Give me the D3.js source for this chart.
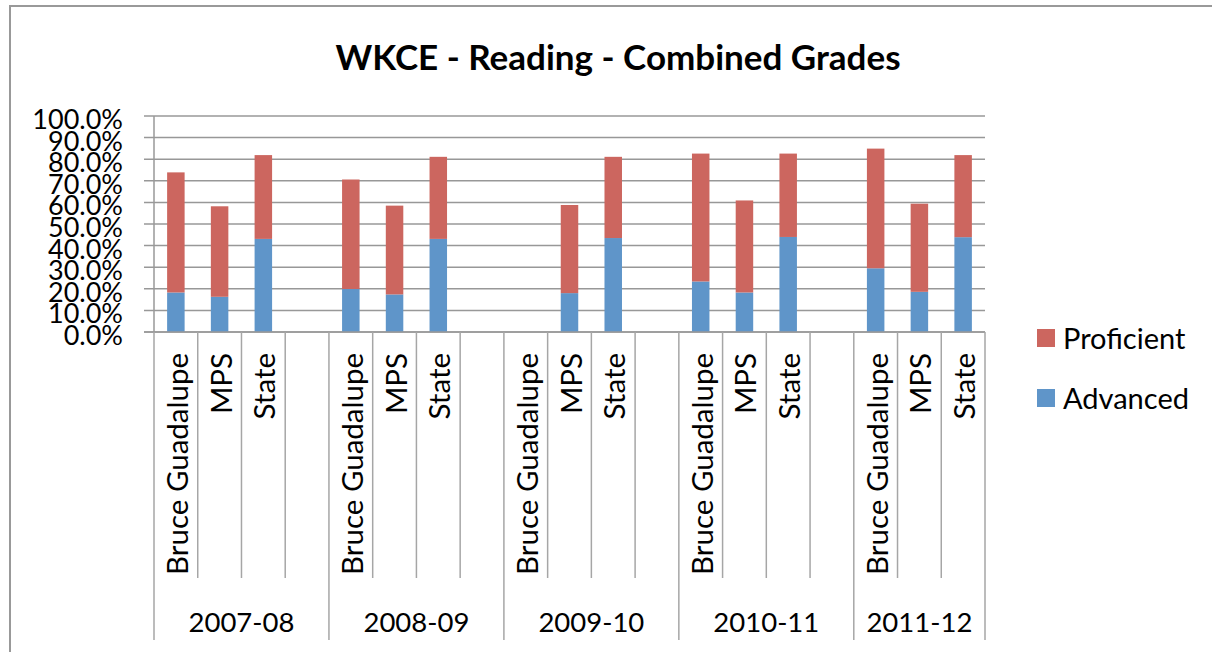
<!DOCTYPE html>
<html>
<head>
<meta charset="utf-8">
<script src="https://cdn.jsdelivr.net/npm/d3@7"></script>
<style>
  body { margin: 0; background: #fff; }
  text { font-family: Lato, "Open Sans", sans-serif; fill: #000; }
</style>
</head>
<body>
<div id="chart"></div>
<script>
// values (fractions of 1)
var years = ["2007-08", "2008-09", "2009-10", "2010-11", "2011-12"];
var schools = ["Bruce Guadalupe", "MPS", "State"];
var advanced = [
  [0.183, 0.163, 0.431],
  [0.199, 0.174, 0.431],
  [null,  0.180, 0.435],
  [0.234, 0.183, 0.440],
  [0.295, 0.186, 0.439]
];
var proficient = [
  [0.556, 0.419, 0.388],
  [0.507, 0.411, 0.380],
  [null,  0.408, 0.376],
  [0.592, 0.426, 0.386],
  [0.554, 0.408, 0.380]
];
var yTicks = [0, 0.1, 0.2, 0.3, 0.4, 0.5, 0.6, 0.7, 0.8, 0.9, 1.0];
var seriesNames = ["Proficient", "Advanced"];
var colors = {"Proficient": "#CC665F", "Advanced": "#5F95C9"};

var W = 1212, H = 652;
var plotLeft = 154, plotRight = 985, plotTop = 116, plotBottom = 332;

// one slot per school, plus an empty slot after each year except the last
var slots = [];
years.forEach(function(yr, i){
  schools.forEach(function(s, j){
    slots.push({key: yr + "|" + s, year: i, school: j, label: s});
  });
  if (i < years.length - 1) slots.push({key: yr + "|blank", year: i, school: -1, label: ""});
});

var x = d3.scaleBand().domain(slots.map(function(d){ return d.key; })).range([plotLeft, plotRight]);
var y = d3.scaleLinear().domain([0, 1]).range([plotBottom, plotTop]);
var bw = x.bandwidth() * 0.4;

var svg = d3.select("#chart").append("svg")
    .attr("width", W)
    .attr("height", H);

// chart frame
svg.append("rect")
    .attr("x", 10).attr("y", 6)
    .attr("width", 1250).attr("height", 700)
    .attr("fill", "none")
    .attr("stroke", "#999")
    .attr("stroke-width", 2);

svg.append("text")
    .attr("x", 618).attr("y", 70)
    .attr("text-anchor", "middle")
    .style("font-weight", "bold")
    .style("font-size", "35px")
    .text("WKCE - Reading - Combined Grades");

// gridlines + y labels
svg.append("g").selectAll("line")
    .data(yTicks)
  .enter().append("line")
    .attr("x1", plotLeft - 10).attr("x2", plotRight)
    .attr("y1", function(d){ return y(d); })
    .attr("y2", function(d){ return y(d); })
    .attr("stroke", "#989898")
    .attr("stroke-width", 1.5);

svg.append("g").selectAll("text")
    .data(yTicks)
  .enter().append("text")
    .attr("x", 123)
    .attr("y", function(d){ return y(d) + 13; })
    .attr("text-anchor", "end")
    .style("font-size", "27px")
    .text(d3.format(".1%"));

svg.append("line")
    .attr("x1", plotLeft).attr("x2", plotLeft)
    .attr("y1", y(1)).attr("y2", y(0))
    .attr("stroke", "#989898").attr("stroke-width", 1.5);

// stacked bars
var rows = slots.filter(function(d){ return d.school >= 0 && advanced[d.year][d.school] != null; });

svg.append("g").selectAll("rect")
    .data(rows)
  .enter().append("rect")
    .attr("x", function(d){ return x(d.key) + (x.bandwidth() - bw) / 2; })
    .attr("width", bw)
    .attr("y", function(d){ return y(advanced[d.year][d.school]); })
    .attr("height", function(d){ return y(0) - y(advanced[d.year][d.school]); })
    .attr("fill", colors.Advanced);

svg.append("g").selectAll("rect")
    .data(rows)
  .enter().append("rect")
    .attr("x", function(d){ return x(d.key) + (x.bandwidth() - bw) / 2; })
    .attr("width", bw)
    .attr("y", function(d){ return y(advanced[d.year][d.school] + proficient[d.year][d.school]); })
    .attr("height", function(d){ return y(advanced[d.year][d.school]) - y(advanced[d.year][d.school] + proficient[d.year][d.school]); })
    .attr("fill", colors.Proficient);

// category axis
svg.append("line")
    .attr("x1", plotLeft - 10).attr("x2", plotRight)
    .attr("y1", plotBottom).attr("y2", plotBottom)
    .attr("stroke", "#989898").attr("stroke-width", 1.5);

var bounds = slots.map(function(d, i){
  var first = i == 0 || slots[i-1].year != d.year;
  return {x: x(d.key), long: first};
});
bounds.push({x: plotRight, long: true});

svg.append("g").selectAll("line")
    .data(bounds)
  .enter().append("line")
    .attr("x1", function(d){ return d.x; })
    .attr("x2", function(d){ return d.x; })
    .attr("y1", plotBottom)
    .attr("y2", function(d){ return d.long ? 640 : 578; })
    .attr("stroke", "#a6a6a6").attr("stroke-width", 1.5);

svg.append("g").selectAll("text")
    .data(slots.filter(function(d){ return d.label; }))
  .enter().append("text")
    .attr("transform", function(d){
      return "translate(" + (x(d.key) + x.bandwidth() / 2 + 12) + ",353) rotate(-90)";
    })
    .attr("text-anchor", "end")
    .style("font-size", "29.5px")
    .text(function(d){ return d.label; });

svg.append("g").selectAll("text")
    .data(years)
  .enter().append("text")
    .attr("x", function(d, i){
      var g = slots.filter(function(s){ return s.year == i && s.school >= 0; });
      var x0 = x(g[0].key);
      var x1 = i < years.length - 1 ? x0 + 4 * x.bandwidth() : plotRight;
      return (x0 + x1) / 2;
    })
    .attr("y", 632)
    .attr("text-anchor", "middle")
    .style("font-size", "27.5px")
    .text(function(d){ return d; });

// legend
var legend = svg.append("g").selectAll("g")
    .data(seriesNames)
  .enter().append("g")
    .attr("transform", function(d, i){ return "translate(1037," + (329 + i * 60) + ")"; });

legend.append("rect")
    .attr("width", 18).attr("height", 18)
    .attr("fill", function(d){ return colors[d]; });

legend.append("text")
    .attr("x", 26).attr("y", 20)
    .style("font-size", "29px")
    .text(function(d){ return d; });
</script>
</body>
</html>
